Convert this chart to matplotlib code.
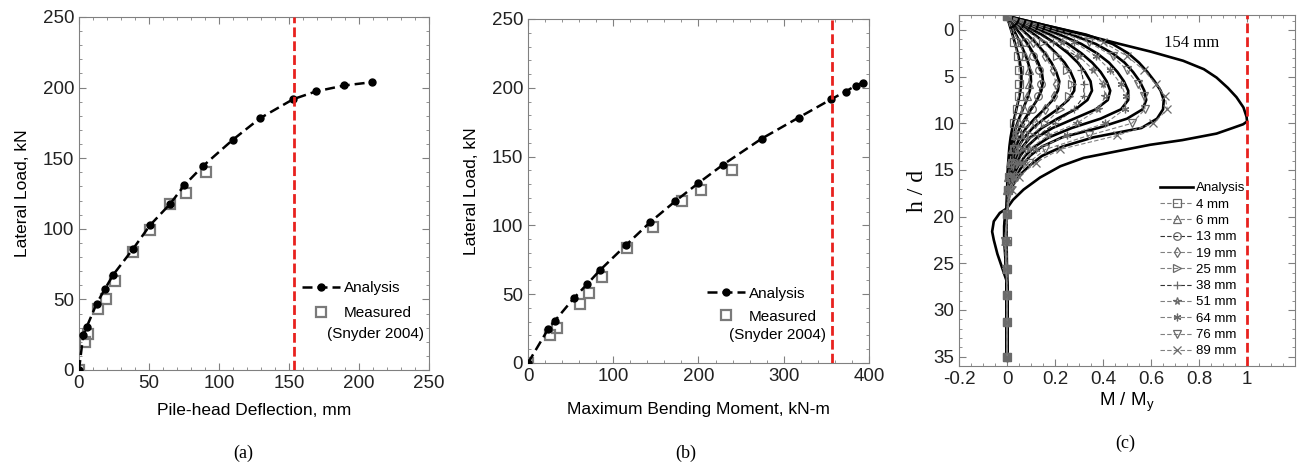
import numpy as np
import matplotlib.pyplot as plt
from matplotlib.ticker import MultipleLocator

plt.rcParams['font.family'] = ['Liberation Sans', 'DejaVu Sans']
plt.rcParams['mathtext.default'] = 'regular'

# load-deflection / load-moment response of the pile head
load_ana = [0, 24.5, 30.5, 47, 57.5, 67.5, 86, 102.5, 117.5, 130.8, 144.2, 163, 178.3, 191.8, 197.3, 201.5, 203.8]
defl_ana = [0, 3.0, 5.5, 12.6, 18.6, 24.5, 38.8, 50.7, 65, 75.2, 88.3, 109.8, 129.3, 153, 169.3, 189.5, 209]
mom_ana = [0, 23.5, 31.3, 53.6, 69.7, 84.5, 115.5, 143.6, 172.6, 200, 229, 274, 317.4, 356, 372.6, 384.3, 392.6]

load_meas = [0, 20, 25.3, 43.2, 50.6, 62.7, 83.8, 99.1, 117.4, 125.4, 140.2]
defl_meas = [0, 4.3, 6.2, 13.6, 19, 25.5, 38.3, 50.7, 65, 76.2, 90.5]
mom_meas = [0, 25.4, 34, 61.4, 71.6, 87.3, 115.9, 146.8, 180.4, 203, 239.5]

defl_yield = 153.5
mom_yield = 357

# bending moment profiles, M/My against depth h/d
h_grid = [-1.5, -0.5, 0.5, 1.5, 2.5, 3.5, 4.5, 5.5, 6.5, 7.5, 8.5, 9.5, 10.5, 11.5, 12.5,
          13.5, 14.5, 15.5, 16.5, 17.5, 18.5, 19.2, 20, 21, 22, 24, 26, 28, 35]
profiles = {
    '4 mm': [0, 0.011, 0.023, 0.034, 0.045, 0.054, 0.06, 0.06, 0.056, 0.048, 0.039, 0.03, 0.022, 0.015, 0.01,
             0.007, 0.004, 0.002, 0.001, 0, 0, 0, -0.001, -0.002, -0.002, -0.001, 0, 0, 0],
    '6 mm': [0, 0.018, 0.038, 0.057, 0.074, 0.088, 0.098, 0.1, 0.095, 0.082, 0.066, 0.05, 0.036, 0.025, 0.017,
             0.011, 0.007, 0.004, 0.002, 0.001, 0, 0, -0.002, -0.003, -0.003, -0.002, -0.001, 0, 0],
    '13 mm': [0, 0.027, 0.058, 0.086, 0.11, 0.13, 0.145, 0.15, 0.143, 0.125, 0.1, 0.075, 0.053, 0.036, 0.024,
              0.016, 0.01, 0.006, 0.003, 0.001, 0, 0, -0.002, -0.004, -0.004, -0.002, -0.001, 0, 0],
    '19 mm': [0, 0.04, 0.085, 0.125, 0.158, 0.185, 0.205, 0.218, 0.212, 0.19, 0.155, 0.115, 0.08, 0.054, 0.036,
              0.024, 0.015, 0.009, 0.004, 0.002, 0.0005, 0, -0.003, -0.005, -0.005, -0.003, -0.001, 0, 0],
    '25 mm': [0, 0.055, 0.115, 0.165, 0.205, 0.24, 0.265, 0.282, 0.28, 0.255, 0.21, 0.155, 0.107, 0.072, 0.048,
              0.032, 0.021, 0.012, 0.006, 0.002, 0.001, 0, -0.004, -0.006, -0.006, -0.004, -0.001, 0, 0],
    '38 mm': [0, 0.07, 0.145, 0.205, 0.255, 0.295, 0.325, 0.348, 0.354, 0.335, 0.285, 0.21, 0.145, 0.097, 0.065,
              0.043, 0.028, 0.016, 0.008, 0.003, 0.001, 0, -0.004, -0.007, -0.007, -0.004, -0.002, 0, 0],
    '51 mm': [0, 0.09, 0.18, 0.255, 0.31, 0.355, 0.39, 0.415, 0.43, 0.42, 0.37, 0.28, 0.19, 0.125, 0.083,
              0.055, 0.035, 0.02, 0.01, 0.004, 0.001, 0, -0.005, -0.008, -0.008, -0.005, -0.002, 0, 0],
    '64 mm': [0, 0.11, 0.22, 0.31, 0.375, 0.425, 0.46, 0.487, 0.505, 0.505, 0.475, 0.39, 0.27, 0.175, 0.115,
              0.075, 0.048, 0.028, 0.014, 0.006, 0.002, 0, -0.006, -0.009, -0.009, -0.006, -0.002, 0, 0],
    '76 mm': [0, 0.13, 0.27, 0.37, 0.44, 0.49, 0.525, 0.553, 0.572, 0.58, 0.565, 0.5, 0.38, 0.23, 0.145,
              0.095, 0.066, 0.04, 0.022, 0.008, 0.002, 0, -0.007, -0.01, -0.01, -0.007, -0.003, 0, 0],
    '89 mm': [0, 0.16, 0.33, 0.44, 0.505, 0.55, 0.585, 0.615, 0.64, 0.653, 0.65, 0.625, 0.56, 0.36, 0.23,
              0.145, 0.095, 0.055, 0.027, 0.012, 0.004, 0, -0.008, -0.012, -0.012, -0.008, -0.003, 0, 0],
}
h_154 = [-1.5, -0.5, 0.5, 1.5, 2.3, 3.3, 4.2, 5.1, 6.2, 7.2, 8.3, 9.3, 9.8, 10.1, 10.5, 11.1, 11.8, 12.3,
         13.0, 13.7, 14.6, 15.8, 17.1, 18.2, 19.1, 19.6, 20.5, 21.6, 22.5, 24.0, 25.5, 27.0, 35.0]
m_154 = [0, 0.16, 0.32, 0.47, 0.596, 0.734, 0.82, 0.873, 0.92, 0.956, 0.985, 0.998, 1.0, 0.984, 0.94, 0.873,
         0.73, 0.596, 0.457, 0.319, 0.222, 0.138, 0.069, 0.025, 0.0, -0.03, -0.055, -0.062, -0.055, -0.04,
         -0.02, 0, 0]

# strain gauge readings
h_gauge = [-1.5, 1.3, 2.8, 4.3, 5.8, 7.1, 8.5, 10.0, 11.3, 12.8, 14.2, 15.7, 17.1, 19.7, 22.6, 25.6, 28.4, 31.3, 35.0]
gauge = {
    '4 mm': [0, 0.03, 0.045, 0.05, 0.052, 0.048, 0.04, 0.03, 0.04, 0.03, 0.02, 0.01, 0.003, 0, -0.001, 0, 0, 0, 0],
    '6 mm': [0, 0.05, 0.075, 0.09, 0.092, 0.085, 0.07, 0.05, 0.035, 0.02, 0.012, 0.006, 0.002, 0, -0.002, -0.001, 0, 0, 0],
    '13 mm': [0, 0.075, 0.11, 0.135, 0.14, 0.13, 0.105, 0.075, 0.05, 0.03, 0.018, 0.009, 0.003, 0, -0.003, -0.001, 0, 0, 0],
    '19 mm': [0, 0.11, 0.16, 0.19, 0.205, 0.195, 0.16, 0.115, 0.075, 0.045, 0.027, 0.013, 0.005, 0, -0.004, -0.002, 0, 0, 0],
    '25 mm': [0, 0.15, 0.21, 0.25, 0.27, 0.26, 0.22, 0.16, 0.1, 0.06, 0.035, 0.018, 0.006, 0, -0.005, -0.002, 0, 0, 0],
    '38 mm': [0, 0.19, 0.29, 0.31, 0.32, 0.32, 0.28, 0.2, 0.13, 0.075, 0.04, 0.02, 0.008, 0, -0.005, -0.002, 0, 0, 0],
    '51 mm': [0, 0.23, 0.30, 0.36, 0.40, 0.41, 0.38, 0.29, 0.17, 0.09, 0.05, 0.025, 0.01, 0, -0.006, -0.003, 0, 0, 0],
    '64 mm': [0, 0.28, 0.37, 0.43, 0.475, 0.495, 0.49, 0.41, 0.25, 0.12, 0.065, 0.03, 0.012, 0, -0.007, -0.003, 0, 0, 0],
    '76 mm': [0, 0.34, 0.44, 0.50, 0.545, 0.57, 0.575, 0.52, 0.34, 0.16, 0.09, 0.04, 0.015, 0, -0.008, -0.004, 0, 0, 0],
    '89 mm': [0, 0.40, 0.50, 0.57, 0.62, 0.658, 0.668, 0.61, 0.46, 0.22, 0.12, 0.05, 0.02, 0, -0.01, -0.005, 0, 0, 0],
}
gauge_markers = ['s', '^', 'o', 'd', '>', '+', '*', (6, 2, 0), 'v', 'x']
gauge_colors = ['#808080', '#808080', '#333333', '#808080', '#808080', '#333333',
                '#808080', '#808080', '#808080', '#808080']

spine_col = '#808080'
red = '#e8211e'


def style_axes(ax, xminor, yminor):
    for s in ax.spines.values():
        s.set_color(spine_col)
    ax.tick_params(which='both', direction='in', top=True, right=True, color=spine_col,
                   labelsize=13.5, labelcolor='#222222')
    ax.tick_params(which='major', length=5)
    ax.tick_params(which='minor', length=2.5)
    ax.xaxis.set_minor_locator(MultipleLocator(xminor))
    ax.yaxis.set_minor_locator(MultipleLocator(yminor))


fig = plt.figure(figsize=(12.97, 4.63), dpi=100)
ax1 = fig.add_axes([0.0609, 0.2009, 0.2699, 0.7624])
ax2 = fig.add_axes([0.4071, 0.2160, 0.2629, 0.7430])
ax3 = fig.add_axes([0.7394, 0.2095, 0.2591, 0.7580])

panels = [
    (ax1, defl_ana, defl_meas, 250, 'Pile-head Deflection, mm', defl_yield, 10, 8,
     (0.2328, 0.3925), (0.2894, 0.2785), 0.7),
    (ax2, mom_ana, mom_meas, 400, 'Maximum Bending Moment, kN-m', mom_yield, 20, 12,
     (0.5451, 0.3810), (0.5998, 0.2765), 0.6),
]
for ax, xa, xm, xmax, xlab, xyield, minor, xpad, leg_anchor, ref_pos, spacing in panels:
    ax.plot(xa, load_ana, '--', color='black', lw=1.8, marker='o', ms=5, dashes=(4, 2),
            label='Analysis', zorder=3)
    ax.plot(xm, load_meas, ls='none', marker='s', ms=6.5, mfc='none', mec='#7a7a7a', mew=1.6,
            label='Measured', zorder=2)
    ax.axvline(xyield, color=red, lw=2, ls=(0, (3.5, 1.5)), zorder=4)
    ax.set_xlim(0, xmax)
    ax.set_ylim(0, 250)
    ax.set_xlabel(xlab, fontsize=12.5, labelpad=xpad)
    ax.set_ylabel('Lateral Load, kN', fontsize=12.5, labelpad=9)
    style_axes(ax, minor, 10)
    ax.legend(loc='upper left', bbox_to_anchor=leg_anchor, bbox_transform=fig.transFigure,
              frameon=False, fontsize=11, handlelength=2.5, handletextpad=0.25,
              borderpad=0, borderaxespad=0, labelspacing=spacing)
    fig.text(ref_pos[0], ref_pos[1], '(Snyder 2004)', fontsize=11, ha='center', va='center')

ax1.set_xticks([0, 50, 100, 150, 200, 250])
ax2.set_xticks([0, 100, 200, 300, 400])

# panel (c): moment profiles
for i, (name, m) in enumerate(gauge.items()):
    ax3.plot(m, h_gauge, ls=(0, (4, 2)), color=gauge_colors[i], lw=0.8, marker=gauge_markers[i],
             ms=5.5, mfc='none', mec='#6a6a6a', mew=0.9, label=name, zorder=3)
for name, m in profiles.items():
    ax3.plot(m, h_grid, color='black', lw=1.9, zorder=2)
ax3.plot(m_154, h_154, color='black', lw=1.9, zorder=2, label='Analysis')
ax3.axvline(1.0, color=red, lw=2, ls=(0, (3.5, 1.5)), zorder=4)
ax3.text(0.77, 2.2, '154 mm', family='Liberation Serif', fontsize=12, ha='center', va='bottom')

ax3.set_xlim(-0.2, 1.2)
ax3.set_ylim(36, -1.6)
ax3.set_xticks([-0.2, 0, 0.2, 0.4, 0.6, 0.8, 1.0])
ax3.set_xticklabels(['-0.2', '0', '0.2', '0.4', '0.6', '0.8', '1'])
ax3.set_yticks([0, 5, 10, 15, 20, 25, 30, 35])
style_axes(ax3, 0.05, 1)
ax3.set_xlabel('M / M$_y$', fontsize=13.5, labelpad=2)
ax3.set_ylabel('h / d', family='Liberation Serif', fontsize=17, labelpad=4)

handles, labels = ax3.get_legend_handles_labels()
order = [labels.index('Analysis')] + [labels.index(k) for k in gauge]
ax3.legend([handles[k] for k in order], [labels[k] for k in order], loc='upper left',
           bbox_to_anchor=(0.8945, 0.607), bbox_transform=fig.transFigure, frameon=False,
           fontsize=9.5, handlelength=2.5, handletextpad=0.2, borderpad=0, borderaxespad=0,
           labelspacing=0.31)

for x, y, lab in [(0.1875, 0.0216, '(a)'), (0.529, 0.0216, '(b)'), (0.8675, 0.043, '(c)')]:
    fig.text(x, y, lab, family='Liberation Serif', fontsize=13, ha='center', va='center')

fig.savefig('out.png', dpi=100)
